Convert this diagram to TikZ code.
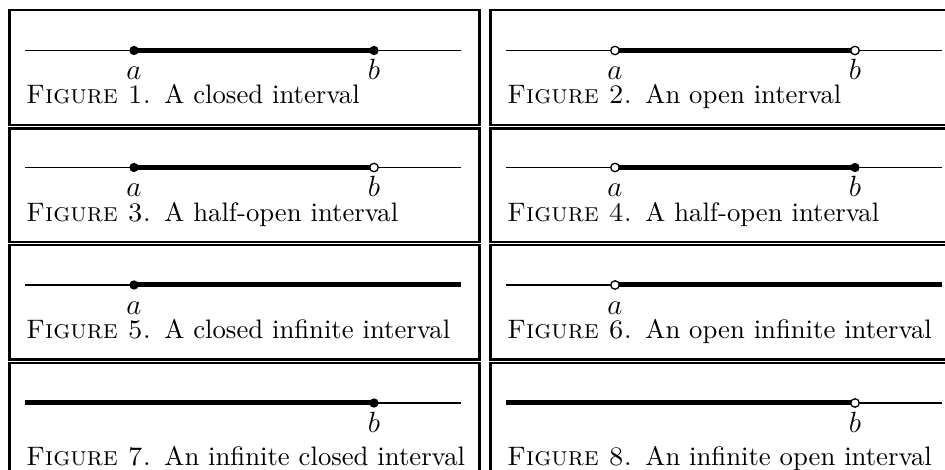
\documentclass[tikz,border=0pt]{standalone}
\usetikzlibrary{backgrounds}
\newcommand\mylabel[1]{\scalebox{2.45}{\fontsize{12}{14}\selectfont$#1$}}
\newcommand\mycaption[2]{\scalebox{2.68}{\fontsize{10}{12}\selectfont\textsc{Figure #1.}\enspace #2}}
\tikzset{
  frame/.style={draw, line width=2.5bp},
  thinline/.style={line width=1.4bp},
  thickline/.style={line width=5bp},
  closeddot/.style={circle, fill=black, inner sep=0pt, minimum size=9.3bp},
  opendot/.style={circle, draw=black, fill=white, line width=1.3bp, inner sep=0pt, minimum size=8.5bp},
  lbl/.style={anchor=base, inner sep=0pt},
  captext/.style={anchor=base west, inner sep=0pt},
}
\begin{document}
\begin{tikzpicture}[x=1bp, y=-1bp]
\useasboundingbox (0,0) rectangle (945,470);
\clip (0,0) rectangle (945,470);

% ---------- Panel 1 ----------
\begin{scope}[shift={(8,9)}]
  \node[frame, minimum width=470bp, minimum height=115bp, anchor=north west, inner sep=0pt] (f1) at (0,0) {};
  \coordinate (p1L) at (17,41.5); \coordinate (p1R) at (453,41.5);
  \node[closeddot] (p1a) at (126,41.5) {};
  \node[closeddot] (p1b) at (366,41.5) {};
  \begin{pgfonlayer}{background}
    \draw[thinline] (p1L) -- (p1R);
    \draw[thickline] (p1a.center) -- (p1b.center);
  \end{pgfonlayer}
  \node[lbl] (l1a) at (126,71) {\mylabel{a}};
  \node[lbl] (l1b) at (366,71) {\mylabel{b}};
  \node[captext] (c1) at (18,95) {\mycaption{1}{A closed interval}};
\end{scope}

% ---------- Panel 2 ----------
\begin{scope}[shift={(489,9)}]
  \node[frame, minimum width=470bp, minimum height=115bp, anchor=north west, inner sep=0pt] (f2) at (0,0) {};
  \coordinate (p2L) at (17,41.5); \coordinate (p2R) at (453,41.5);
  \node[opendot] (p2a) at (126,41.5) {};
  \node[opendot] (p2b) at (366,41.5) {};
  \begin{pgfonlayer}{background}
    \draw[thinline] (p2L) -- (p2R);
    \draw[thickline] (p2a.center) -- (p2b.center);
  \end{pgfonlayer}
  \node[lbl] (l2a) at (126,71) {\mylabel{a}};
  \node[lbl] (l2b) at (366,71) {\mylabel{b}};
  \node[captext] (c2) at (18,95) {\mycaption{2}{An open interval}};
\end{scope}

% ---------- Panel 3 ----------
\begin{scope}[shift={(8,127.5)}]
  \node[frame, minimum width=470bp, minimum height=113.5bp, anchor=north west, inner sep=0pt] (f3) at (0,0) {};
  \coordinate (p3L) at (17,40); \coordinate (p3R) at (453,40);
  \node[closeddot] (p3a) at (126,40) {};
  \node[opendot] (p3b) at (366,40) {};
  \begin{pgfonlayer}{background}
    \draw[thinline] (p3L) -- (p3R);
    \draw[thickline] (p3a.center) -- (p3b.center);
  \end{pgfonlayer}
  \node[lbl] (l3a) at (126,69.5) {\mylabel{a}};
  \node[lbl] (l3b) at (366,69.5) {\mylabel{b}};
  \node[captext] (c3) at (18,94) {\mycaption{3}{A half-open interval}};
\end{scope}

% ---------- Panel 4 ----------
\begin{scope}[shift={(489,127.5)}]
  \node[frame, minimum width=470bp, minimum height=113.5bp, anchor=north west, inner sep=0pt] (f4) at (0,0) {};
  \coordinate (p4L) at (17,40); \coordinate (p4R) at (453,40);
  \node[opendot] (p4a) at (126,40) {};
  \node[closeddot] (p4b) at (366,40) {};
  \begin{pgfonlayer}{background}
    \draw[thinline] (p4L) -- (p4R);
    \draw[thickline] (p4a.center) -- (p4b.center);
  \end{pgfonlayer}
  \node[lbl] (l4a) at (126,69.5) {\mylabel{a}};
  \node[lbl] (l4b) at (366,69.5) {\mylabel{b}};
  \node[captext] (c4) at (18,94) {\mycaption{4}{A half-open interval}};
\end{scope}

% ---------- Panel 5 ----------
\begin{scope}[shift={(8,244)}]
  \node[frame, minimum width=470bp, minimum height=114bp, anchor=north west, inner sep=0pt] (f5) at (0,0) {};
  \coordinate (p5L) at (17,41); \coordinate (p5R) at (453,41);
  \node[closeddot] (p5a) at (126,41) {};
  \begin{pgfonlayer}{background}
    \draw[thinline] (p5L) -- (p5R);
    \draw[thickline] (p5a.center) -- (p5R);
  \end{pgfonlayer}
  \node[lbl] (l5a) at (126,70.5) {\mylabel{a}};
  \node[captext] (c5) at (18,95) {\mycaption{5}{A closed infinite interval}};
\end{scope}

% ---------- Panel 6 ----------
\begin{scope}[shift={(489,244)}]
  \node[frame, minimum width=470bp, minimum height=114bp, anchor=north west, inner sep=0pt] (f6) at (0,0) {};
  \coordinate (p6L) at (17,41); \coordinate (p6R) at (453,41);
  \node[opendot] (p6a) at (126,41) {};
  \begin{pgfonlayer}{background}
    \draw[thinline] (p6L) -- (p6R);
    \draw[thickline] (p6a.center) -- (p6R);
  \end{pgfonlayer}
  \node[lbl] (l6a) at (126,70.5) {\mylabel{a}};
  \node[captext] (c6) at (18,95) {\mycaption{6}{An open infinite interval}};
\end{scope}

% ---------- Panel 7 ----------
\begin{scope}[shift={(8,362)}]
  \node[frame, minimum width=470bp, minimum height=120bp, anchor=north west, inner sep=0pt] (f7) at (0,0) {};
  \coordinate (p7L) at (17,41); \coordinate (p7R) at (453,41);
  \node[closeddot] (p7b) at (366,41) {};
  \begin{pgfonlayer}{background}
    \draw[thinline] (p7L) -- (p7R);
    \draw[thickline] (p7L) -- (p7b.center);
  \end{pgfonlayer}
  \node[lbl] (l7b) at (366,70.5) {\mylabel{b}};
  \node[captext] (c7) at (18,103) {\mycaption{7}{An infinite closed interval}};
\end{scope}

% ---------- Panel 8 ----------
\begin{scope}[shift={(489,362)}]
  \node[frame, minimum width=470bp, minimum height=120bp, anchor=north west, inner sep=0pt] (f8) at (0,0) {};
  \coordinate (p8L) at (17,41); \coordinate (p8R) at (453,41);
  \node[opendot] (p8b) at (366,41) {};
  \begin{pgfonlayer}{background}
    \draw[thinline] (p8L) -- (p8R);
    \draw[thickline] (p8L) -- (p8b.center);
  \end{pgfonlayer}
  \node[lbl] (l8b) at (366,70.5) {\mylabel{b}};
  \node[captext] (c8) at (18,103) {\mycaption{8}{An infinite open interval}};
\end{scope}
\end{tikzpicture}
\end{document}
